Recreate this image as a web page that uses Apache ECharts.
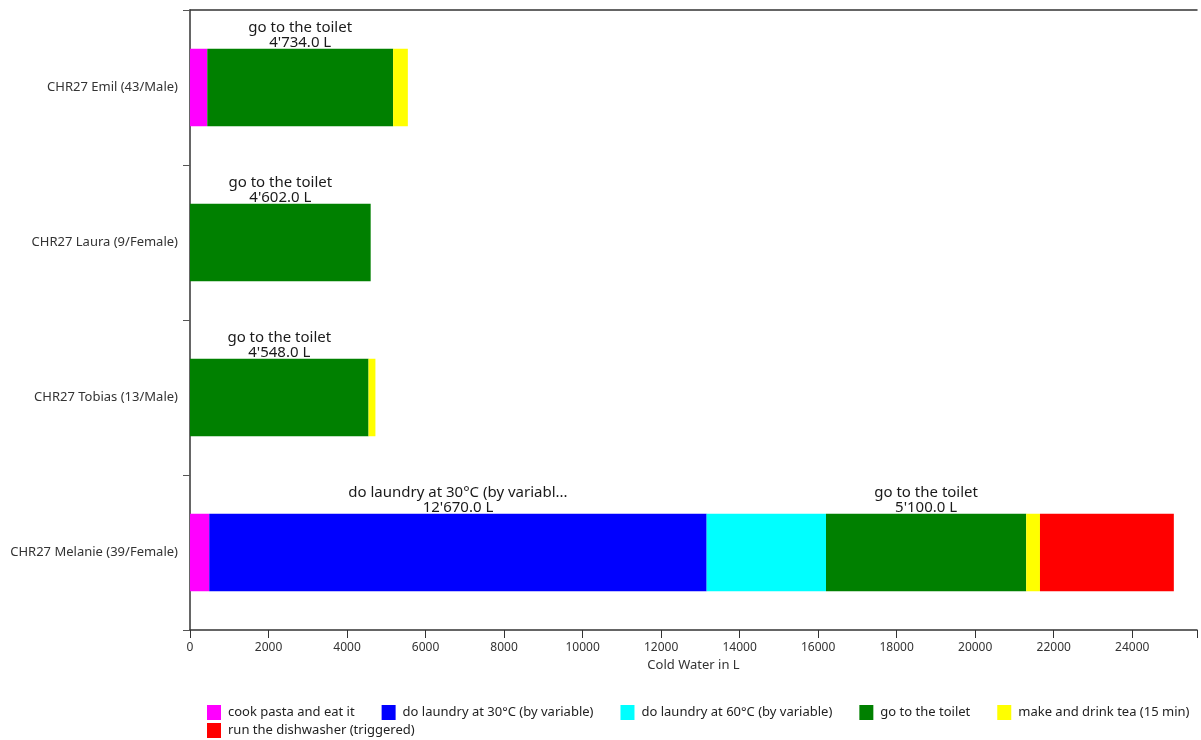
<!DOCTYPE html>
<html>
<head>
<meta charset="utf-8">
<script src="https://cdn.jsdelivr.net/npm/echarts@6/dist/echarts.min.js"></script>
<style>html,body{margin:0;padding:0;background:#fff;}#chart{width:1201px;height:740px;}</style>
</head>
<body>
<div id="chart"></div>
<script>
const categories = ['CHR27 Emil (43/Male)', 'CHR27 Laura (9/Female)', 'CHR27 Tobias (13/Male)', 'CHR27 Melanie (39/Female)'];
const seriesNames = ['cook pasta and eat it', 'do laundry at 30°C (by variable)', 'do laundry at 60°C (by variable)', 'go to the toilet', 'make and drink tea (15 min)', 'run the dishwasher (triggered)'];
const cookPasta = [440, 0, 0, 490];
const laundry30 = [0, 0, 0, 12670];
const laundry60 = [0, 0, 0, 3040];
const toilet = [4734, 4602, 4548, 5100];
const tea = [375, 0, 175, 350];
const dishwasher = [0, 0, 0, 3410];
const colors = ['#FF00FF', '#0000FF', '#00FFFF', '#008000', '#FFFF00', '#FF0000'];
const xTicks = [0, 2000, 4000, 6000, 8000, 10000, 12000, 14000, 16000, 18000, 20000, 22000, 24000];

const values = [cookPasta, laundry30, laundry60, toilet, tea, dishwasher];

function fmt(v) {
  const s = v.toFixed(1);
  const parts = s.split('.');
  parts[0] = parts[0].replace(/\B(?=(\d{3})+(?!\d))/g, "'");
  return parts.join('.') + ' L';
}
function trunc(n) { return n.length > 30 ? n.slice(0, 30) + '...' : n; }

// segments that take a large share of their row get a label
const rowTotals = categories.map((c, ci) => values.reduce((s, arr) => s + arr[ci], 0));

const series = seriesNames.map((name, si) => ({
  name: name,
  type: 'bar',
  stack: 'total',
  barWidth: '50%',
  itemStyle: { color: colors[si] },
  emphasis: { disabled: true },
  data: values[si].map((v, ci) => ({
    value: v,
    label: (v / rowTotals[ci]) > 0.18 ? {
      show: true,
      position: 'top',
      distance: -1,
      formatter: trunc(name) + '\n' + fmt(v),
      fontFamily: 'Noto Sans',
      fontSize: 15,
      lineHeight: 15,
      color: '#1a1a1a'
    } : { show: false }
  }))
}));

const legendText = { fontSize: 13, color: '#222', fontFamily: 'Noto Sans', padding: [0, 0, 0, 2] };

const chart = echarts.init(document.getElementById('chart'), null, { renderer: 'canvas' });
chart.setOption({
  animation: false,
  textStyle: { fontFamily: 'Noto Sans' },
  grid: { left: 190, right: 4, top: 10, bottom: 110, containLabel: false },
  xAxis: [{
    type: 'value',
    min: 0,
    max: 25650,
    interval: 2000,
    name: 'Cold Water in L',
    nameLocation: 'middle',
    nameGap: 28,
    nameTextStyle: { fontSize: 13, color: '#333', fontFamily: 'Noto Sans' },
    axisLine: { show: true, lineStyle: { color: '#333', width: 1.5 } },
    axisTick: { show: true, length: 8, lineStyle: { color: '#333' } },
    axisLabel: {
      margin: 12, fontSize: 12, color: '#333', fontFamily: 'Noto Sans',
      formatter: v => (xTicks.indexOf(v) >= 0 ? String(v) : '')
    },
    splitLine: { show: false }
  }, {
    type: 'value',
    position: 'top',
    min: 0,
    max: 25650,
    axisLine: { show: true, lineStyle: { color: '#333', width: 1.5 } },
    axisTick: { show: false },
    axisLabel: { show: false },
    splitLine: { show: false }
  }],
  yAxis: {
    type: 'category',
    inverse: true,
    data: categories,
    axisLine: { show: true, lineStyle: { color: '#333', width: 1.5 } },
    axisTick: { show: true, alignWithLabel: false, length: 7, lineStyle: { color: '#555' } },
    axisLabel: { margin: 12, fontSize: 13, color: '#333', fontFamily: 'Noto Sans' }
  },
  legend: [{
    data: seriesNames.slice(0, 5),
    orient: 'horizontal',
    left: 207,
    top: 705,
    padding: 0,
    itemWidth: 14,
    itemHeight: 15,
    itemGap: 27,
    icon: 'rect',
    selectedMode: false,
    textStyle: legendText
  }, {
    data: seriesNames.slice(5),
    orient: 'horizontal',
    left: 207,
    top: 723,
    padding: 0,
    itemWidth: 14,
    itemHeight: 15,
    itemGap: 27,
    icon: 'rect',
    selectedMode: false,
    textStyle: legendText
  }],
  series: series
});
</script>
</body>
</html>
